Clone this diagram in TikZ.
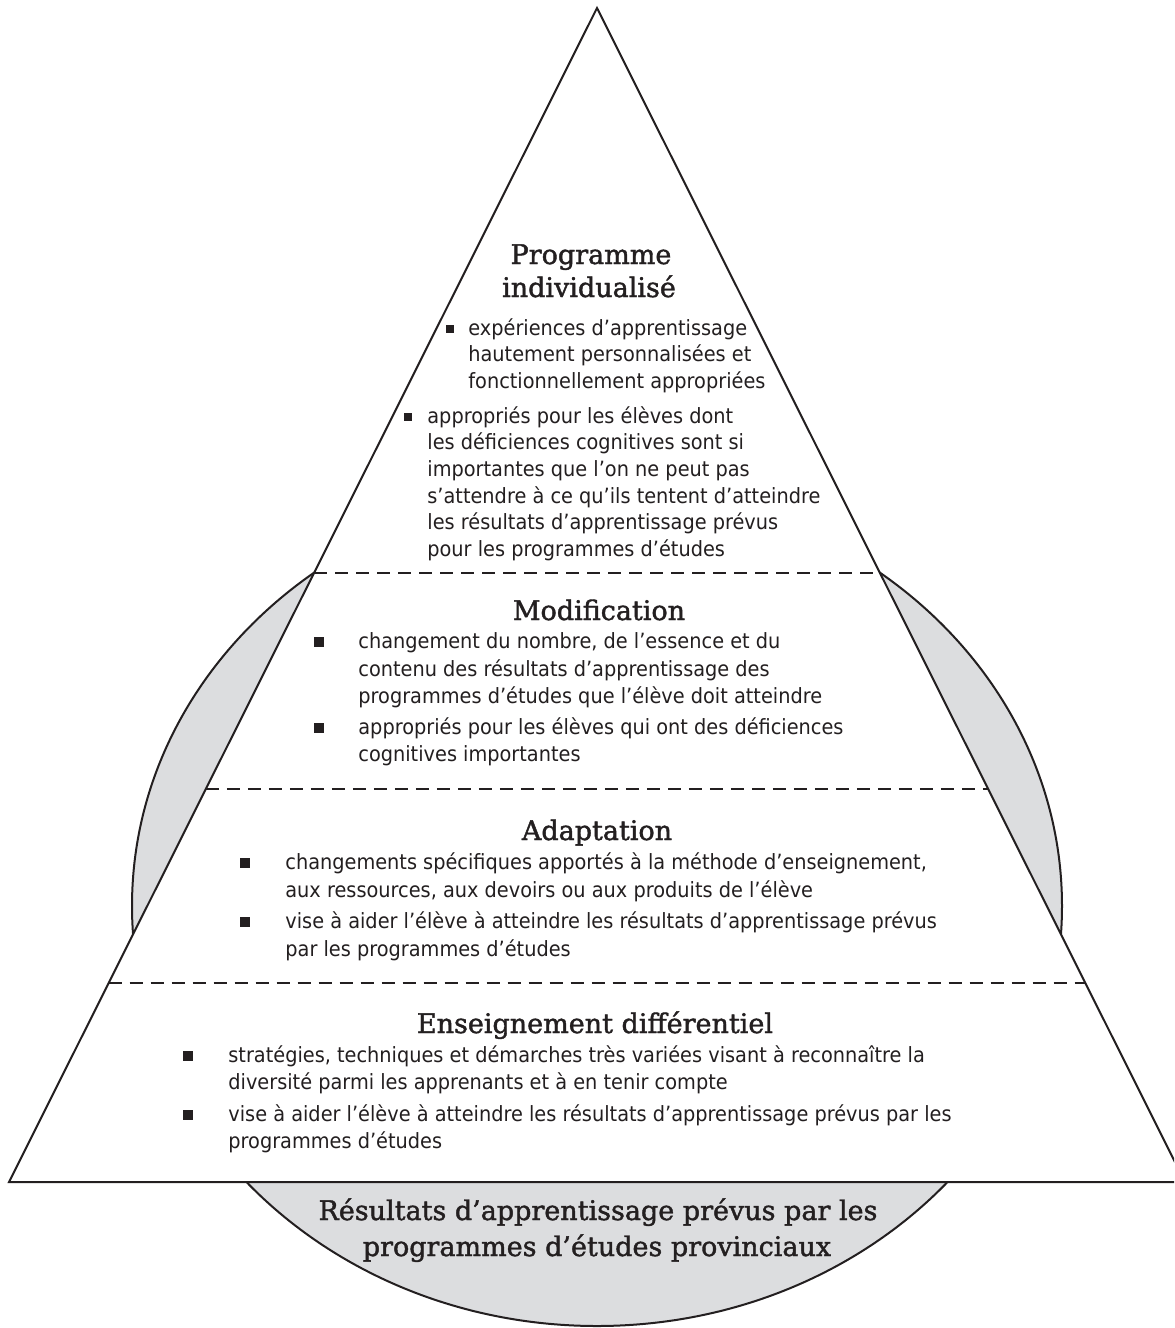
\documentclass[tikz,border=0pt]{standalone}
\usepackage{fontspec}
\usepackage{xcolor}
\usetikzlibrary{calc}
\newfontfamily\bodyfont[FakeStretch=0.92]{DejaVu Sans}
\newfontfamily\headfont[FakeBold=1.5]{DejaVu Serif}
\definecolor{ink}{HTML}{231F20}
\definecolor{shade}{HTML}{DCDDDF}

\begin{document}
\begin{tikzpicture}[x=0.5pt,y=-0.5pt,
	body/.style={anchor=base west,inner sep=0pt,text=ink,font=\bodyfont\fontsize{10.5}{13}\selectfont},
	head/.style={anchor=base,inner sep=0pt,text=ink,font=\headfont\fontsize{13.5}{16}\selectfont},
	sq/.style={fill=ink,inner sep=0pt,minimum size=5pt},
	sqsmall/.style={sq,minimum size=4pt},
	level/.style={draw=ink,line width=0.75pt,dash pattern=on 6.5pt off 4pt}]
				\useasboundingbox (0,0) rectangle (1174,1328);
				\clip (0,0) rectangle (1174,1328);
				\coordinate (apex) at (597,8);
				\coordinate (bl) at (9,1182);
				\coordinate (br) at (1185,1182);

				% disc of the expected outcomes, behind the pyramid
				\draw[fill=shade,draw=ink,line width=1pt] (597,906) ellipse [x radius=232.5pt, y radius=210pt];
				\draw[fill=white,draw=ink,line width=1pt] (apex) -- (bl) -- (br) -- cycle;

				% level separators
				\draw[level] ($(apex)!0.4813!(bl)$) -- ($(apex)!0.4813!(br)$);
				\draw[level] ($(apex)!0.6652!(bl)$) -- ($(apex)!0.6652!(br)$);
				\draw[level] ($(apex)!0.8305!(bl)$) -- ($(apex)!0.8305!(br)$);

				% Programme individualise
				\draw (591,264) node[head] (prog) {Programme};
				\draw (589,297) node[head] (indiv) {individualisé};
				\draw (450,329) node[sqsmall] (b11) {};
				\draw (468,335) node[body] (p11) {expériences d’apprentissage};
				\draw (468,361) node[body] (p12) {hautement personnalisées et};
				\draw (468,388) node[body] (p13) {fonctionnellement appropriées};
				\draw (408,417) node[sqsmall] (b12) {};
				\draw (427,423) node[body] (p21) {appropriés pour les élèves dont};
				\draw (427,449) node[body] (p22) {les déficiences cognitives sont si};
				\draw (427,476) node[body] (p23) {importantes que l’on ne peut pas};
				\draw (427,503) node[body] (p24) {s’attendre à ce qu’ils tentent d’atteindre};
				\draw (427,529) node[body] (p25) {les résultats d’apprentissage prévus};
				\draw (427,556) node[body] (p26) {pour les programmes d’études};

				% Modification
				\draw (599,620) node[head] (modif) {Modification};
				\draw (319,642) node[sq] (b21) {};
				\draw (358,648) node[body] (m11) {changement du nombre, de l’essence et du};
				\draw (358,676) node[body] (m12) {contenu des résultats d’apprentissage des};
				\draw (358,703) node[body] (m13) {programmes d’études que l’élève doit atteindre};
				\draw (319,728) node[sq] (b22) {};
				\draw (358,734) node[body] (m21) {appropriés pour les élèves qui ont des déficiences};
				\draw (358,761) node[body] (m22) {cognitives importantes};

				% Adaptation
				\draw (597,840) node[head] (adapt) {Adaptation};
				\draw (245,863) node[sq] (b31) {};
				\draw (285,869) node[body] (a11) {changements spécifiques apportés à la méthode d’enseignement,};
				\draw (285,897) node[body] (a12) {aux ressources, aux devoirs ou aux produits de l’élève};
				\draw (245,922) node[sq] (b32) {};
				\draw (285,928) node[body] (a21) {vise à aider l’élève à atteindre les résultats d’apprentissage prévus};
				\draw (285,956) node[body] (a22) {par les programmes d’études};

				% Enseignement differentiel
				\draw (595,1033) node[head] (diff) {Enseignement différentiel};
				\draw (188,1056) node[sq] (b41) {};
				\draw (228,1062) node[body] (d11) {stratégies, techniques et démarches très variées visant à reconnaître la};
				\draw (228,1089) node[body] (d12) {diversité parmi les apprenants et à en tenir compte};
				\draw (188,1115) node[sq] (b42) {};
				\draw (228,1121) node[body] (d21) {vise à aider l’élève à atteindre les résultats d’apprentissage prévus par les};
				\draw (228,1148) node[body] (d22) {programmes d’études};

				% expected outcomes
				\draw (598,1220) node[head] (res1) {Résultats d’apprentissage prévus par les};
				\draw (597,1256) node[head] (res2) {programmes d’études provinciaux};
			\end{tikzpicture}
\end{document}
